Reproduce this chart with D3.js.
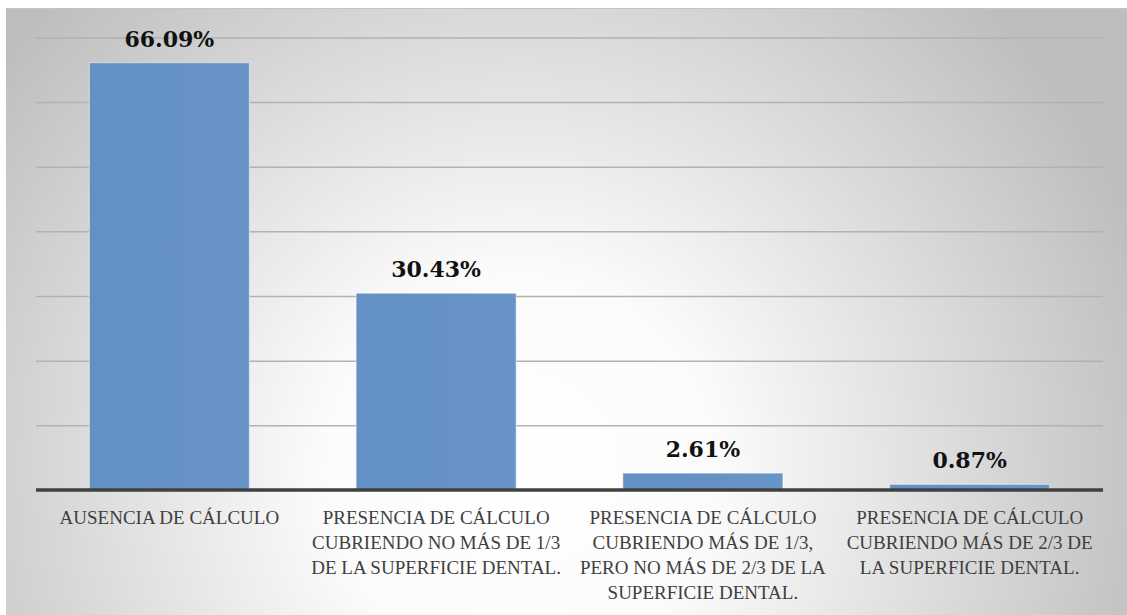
<!DOCTYPE html>
<html>
<head>
<meta charset="utf-8">
<script src="https://cdn.jsdelivr.net/npm/d3@7"></script>
<style>
  html, body { margin: 0; padding: 0; background: #ffffff; }
  svg { display: block; }
</style>
</head>
<body>
<svg id="chart" width="1127" height="615"></svg>
<script>
// ---- data ----
const categories = [
  "AUSENCIA DE CÁLCULO",
  "PRESENCIA DE CÁLCULO CUBRIENDO NO MÁS DE 1/3 DE LA SUPERFICIE DENTAL.",
  "PRESENCIA DE CÁLCULO CUBRIENDO MÁS DE 1/3, PERO NO MÁS DE 2/3 DE LA SUPERFICIE DENTAL.",
  "PRESENCIA DE CÁLCULO CUBRIENDO MÁS DE 2/3 DE LA SUPERFICIE DENTAL."
];
const categoryLines = [
  ["AUSENCIA DE CÁLCULO"],
  ["PRESENCIA DE CÁLCULO", "CUBRIENDO NO MÁS DE 1/3", "DE LA SUPERFICIE DENTAL."],
  ["PRESENCIA DE CÁLCULO", "CUBRIENDO MÁS DE 1/3,", "PERO NO MÁS DE 2/3 DE LA", "SUPERFICIE DENTAL."],
  ["PRESENCIA DE CÁLCULO", "CUBRIENDO MÁS DE 2/3 DE", "LA SUPERFICIE DENTAL."]
];
const values = [66.09, 30.43, 2.61, 0.87];
const valueLabels = ["66.09%", "30.43%", "2.61%", "0.87%"];
const gridTicks = [0, 10, 20, 30, 40, 50, 60, 70];

// ---- layout ----
const W = 1127, H = 615;
const plot = { left: 36, right: 1103, top: 37.4, bottom: 490 };

const svg = d3.select("#chart");
const defs = svg.append("defs");
const rg = defs.append("radialGradient")
  .attr("id", "bg").attr("gradientUnits", "userSpaceOnUse")
  .attr("cx", 520).attr("cy", 470).attr("r", 660);
rg.append("stop").attr("offset", 0).attr("stop-color", "#ffffff");
rg.append("stop").attr("offset", 0.3).attr("stop-color", "#fbfbfb");
rg.append("stop").attr("offset", 1).attr("stop-color", "#bebebe");

const bg2 = defs.append("linearGradient").attr("id", "barg")
  .attr("x1", 0).attr("y1", 0).attr("x2", 1).attr("y2", 0);
bg2.append("stop").attr("offset", 0).attr("stop-color", "#6390c5");
bg2.append("stop").attr("offset", 1).attr("stop-color", "#6894c7");

svg.append("rect").attr("x", 6).attr("y", 8).attr("width", W - 6).attr("height", H - 8)
  .attr("fill", "url(#bg)");
svg.append("line").attr("x1", 6).attr("x2", W).attr("y1", 8.5).attr("y2", 8.5)
  .attr("stroke", "#c4c4c4").attr("stroke-width", 1);

const x = d3.scaleBand().domain(d3.range(categories.length))
  .range([plot.left, plot.right]).paddingInner(0.4).paddingOuter(0.2);
const y = d3.scaleLinear().domain([0, 70]).range([plot.bottom, plot.top]);

// gridlines
const grid = svg.append("g").attr("transform", `translate(${plot.left},0)`)
  .call(d3.axisLeft(y).tickValues(gridTicks.filter(d => d > 0))
    .tickSize(-(plot.right - plot.left)).tickFormat(""));
grid.select(".domain").remove();
grid.selectAll(".tick line").attr("stroke", "#b2b2b2").attr("stroke-width", 1.5);

// bars
svg.append("g").selectAll("rect").data(values).join("rect")
  .attr("x", (d, i) => x(i))
  .attr("y", d => y(d))
  .attr("width", x.bandwidth())
  .attr("height", d => y(0) - y(d))
  .attr("fill", "url(#barg)")
  .attr("stroke", "rgba(255,255,255,0.45)")
  .attr("stroke-width", 1.2);

// baseline axis
const xAxis = svg.append("g").attr("transform", `translate(0,${y(0)})`)
  .call(d3.axisBottom(x).tickSize(0).tickFormat(""));
xAxis.select(".domain").attr("stroke", "#404040").attr("stroke-width", 3.5)
  .attr("d", `M${plot.left},0H${plot.right}`);

// data labels
svg.append("g").selectAll("text").data(values).join("text")
  .attr("x", (d, i) => x(i) + x.bandwidth() / 2)
  .attr("y", d => y(d) - 16)
  .attr("text-anchor", "middle")
  .attr("font-family", "'DejaVu Serif', serif")
  .attr("font-weight", "bold")
  .attr("font-size", 22)
  .attr("fill", "#111111")
  .text((d, i) => valueLabels[i]);

// category labels
const cat = svg.append("g").selectAll("text").data(categoryLines).join("text")
  .attr("x", (d, i) => x(i) + x.bandwidth() / 2)
  .attr("y", 524)
  .attr("text-anchor", "middle")
  .attr("font-family", "'Liberation Serif', serif")
  .attr("font-size", 19)
  .attr("fill", "#3f3f3f");
cat.selectAll("tspan").data(d => d).join("tspan")
  .attr("x", function() { return d3.select(this.parentNode).attr("x"); })
  .attr("dy", (d, i) => i === 0 ? 0 : 25)
  .text(d => d);
</script>
</body>
</html>
